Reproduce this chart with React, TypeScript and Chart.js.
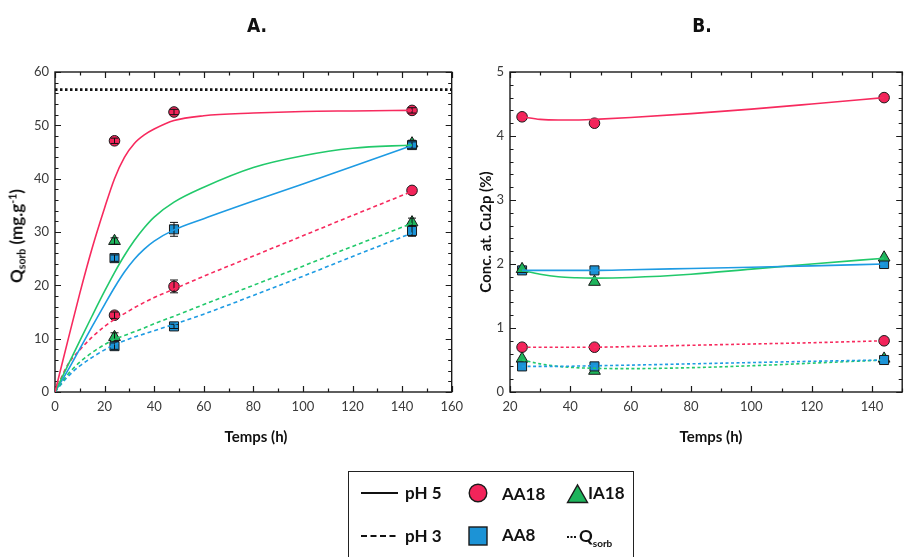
import React, { useEffect, useRef } from 'react';
import { Chart, registerables } from 'chart.js';
Chart.register(...registerables);

// ---------- Panel A : sorption kinetics ----------
const A_TIMES = [24, 48, 144];
const A_IA18_TIMES = [24, 144];
const A_AA18_PH5 = [47.1, 52.5, 52.8];
const A_AA18_PH5_ERR = [0.5, 0.5, 0.5];
const A_AA8_PH5 = [25.1, 30.5, 46.3];
const A_AA8_PH5_ERR = [0.6, 1.3, 0.6];
const A_IA18_PH5 = [28.3, 46.6];
const A_IA18_PH5_ERR = [0.6, 0.6];
const A_AA18_PH3 = [14.4, 19.8, 37.8];
const A_AA18_PH3_ERR = [0.6, 1.2, 0];
const A_AA8_PH3 = [8.6, 12.3, 30.2];
const A_AA8_PH3_ERR = [0.6, 0.4, 1.0];
const A_IA18_PH3 = [10.3, 31.8];
const A_IA18_PH3_ERR = [0.8, 0.8];
const A_QSORB = 56.7;
const A_QSORB_X = [0, 160];

const A_FIT_T = [0, 5, 10, 15, 20, 24, 28, 32, 36, 40, 48, 60, 80, 100, 120, 144];
const A_FIT_AA18_PH5 = [0, 9.3, 18.5, 27, 34.5, 40, 44, 46.6, 48.2, 49.3, 50.9, 51.8, 52.3, 52.6, 52.7, 52.8];
const A_FIT_IA18_PH5 = [0, 4.8, 9.6, 14.3, 18.9, 22.4, 25.6, 28.4, 30.8, 32.8, 35.6, 38.4, 42.1, 44.3, 45.7, 46.3];
const A_FIT_AA8_PH5 = [0, 3.9, 8.1, 12.3, 16.4, 19.6, 22.5, 24.9, 26.8, 28.3, 30.4, 32.5, 35.8, 39, 42.3, 46.2];
const A_FIT_AA18_PH3 = [0, 5, 7.9, 10.3, 12.3, 13.6, 14.7, 15.8, 16.8, 17.7, 19.3, 21.7, 25.5, 29.3, 33.1, 37.6];
const A_FIT_IA18_PH3 = [0, 3.2, 5.6, 7.4, 8.9, 9.9, 10.6, 11.3, 12.0, 12.8, 14.2, 16.4, 20.0, 23.6, 27.3, 31.6];
const A_FIT_AA8_PH3 = [0, 2.8, 4.9, 6.5, 7.9, 8.9, 9.6, 10.3, 10.9, 11.5, 12.7, 14.6, 18.1, 21.7, 25.4, 29.8];

// ---------- Panel B : Cu2p atomic concentration ----------
const B_TIMES = [24, 48, 144];
const B_AA18_PH5 = [4.3, 4.2, 4.6];
const B_AA8_PH5 = [1.9, 1.9, 2.0];
const B_IA18_PH5 = [1.92, 1.72, 2.1];
const B_AA18_PH3 = [0.7, 0.7, 0.8];
const B_AA8_PH3 = [0.4, 0.4, 0.5];
const B_IA18_PH3 = [0.52, 0.33, 0.52];

const B_FIT_T = [24, 30, 36, 42, 48, 60, 80, 100, 120, 144];
const B_FIT_AA18_PH5 = [4.3, 4.26, 4.25, 4.25, 4.26, 4.29, 4.35, 4.42, 4.5, 4.6];
const B_FIT_AA8_PH5 = [1.9, 1.9, 1.9, 1.9, 1.9, 1.91, 1.93, 1.95, 1.97, 2.0];
const B_FIT_IA18_PH5 = [1.9, 1.84, 1.8, 1.785, 1.78, 1.79, 1.84, 1.92, 2.0, 2.09];
const B_FIT_AA18_PH3 = [0.7, 0.7, 0.7, 0.7, 0.7, 0.71, 0.73, 0.75, 0.77, 0.8];
const B_FIT_AA8_PH3 = [0.4, 0.4, 0.4, 0.405, 0.41, 0.42, 0.44, 0.46, 0.48, 0.5];
const B_FIT_IA18_PH3 = [0.5, 0.44, 0.4, 0.38, 0.37, 0.365, 0.38, 0.41, 0.45, 0.5];

// ---------- axis ranges / ticks ----------
const A_X = { min: 0, max: 160, major: 20, minor: 10 };
const A_Y = { min: 0, max: 60, major: 10, minor: 2 };
const B_X = { min: 20, max: 150, major: 20, minor: 10 };
const B_Y = { min: 0, max: 5, major: 1, minor: 0.2 };

// ---------- style ----------
const RED = '#F72A5E';
const RED_M = '#F2245A';
const GREEN = '#22C96B';
const GREEN_M = '#1EB45C';
const BLUE = '#1E9BE3';
const BLUE_M = '#1C93D6';
const FONT = 'Lato, "Open Sans", sans-serif';

const pts = (xs: number[], ys: number[]) => xs.map((x, i) => ({ x, y: ys[i] }));

const curve = (xs: number[], ys: number[], color: string, dash: number[]) => ({
  data: pts(xs, ys),
  showLine: true,
  borderColor: color,
  borderWidth: 1.6,
  borderDash: dash,
  pointRadius: 0,
  cubicInterpolationMode: 'monotone',
});

const markers = (xs: number[], ys: number[], color: string, style: string, r: number, errors?: number[]) => ({
  data: pts(xs, ys),
  showLine: false,
  pointStyle: style,
  pointRadius: r,
  pointBackgroundColor: color,
  pointBorderColor: '#1a1a1a',
  pointBorderWidth: 1,
  errors,
});

const framePlugin = {
  id: 'frame',
  beforeDatasetsDraw(chart: any, _a: any, o: any) {
    const { ctx, chartArea: a, scales } = chart;
    const xs = scales.x, ys = scales.y;
    ctx.save();
    ctx.strokeStyle = '#1a1a1a';
    ctx.lineWidth = 1.2;
    ctx.beginPath();
    const isMajor = (v: number, m: number) => Math.abs(v / m - Math.round(v / m)) < 1e-6;
    const nx = Math.round((o.x.max - o.x.min) / o.x.minor);
    for (let i = 0; i <= nx; i++) {
      const v = o.x.min + i * o.x.minor;
      const len = isMajor(v, o.x.major) ? 6 : 3.5;
      const p = Math.round(xs.getPixelForValue(v)) + 0.5;
      ctx.moveTo(p, a.bottom); ctx.lineTo(p, a.bottom - len);
      ctx.moveTo(p, a.top); ctx.lineTo(p, a.top + len);
    }
    const ny = Math.round((o.y.max - o.y.min) / o.y.minor);
    for (let i = 0; i <= ny; i++) {
      const v = o.y.min + i * o.y.minor;
      const len = isMajor(v, o.y.major) ? 6 : 3.5;
      const p = Math.round(ys.getPixelForValue(v)) + 0.5;
      ctx.moveTo(a.left, p); ctx.lineTo(a.left + len, p);
      ctx.moveTo(a.right, p); ctx.lineTo(a.right - len, p);
    }
    ctx.stroke();
    ctx.lineWidth = 1.4;
    ctx.strokeRect(a.left, a.top, a.right - a.left, a.bottom - a.top);
    ctx.restore();
  },
};

const errorPlugin = {
  id: 'errorBars',
  afterDatasetDraw(chart: any, args: any) {
    const ds = chart.data.datasets[args.index];
    if (!ds.errors) return;
    const { ctx } = chart;
    const xs = chart.scales.x, ys = chart.scales.y;
    ctx.save();
    ctx.strokeStyle = '#111';
    ctx.lineWidth = 1;
    ctx.beginPath();
    ds.data.forEach((p: any, i: number) => {
      const e = ds.errors[i];
      if (!e) return;
      const px = xs.getPixelForValue(p.x);
      const y1 = ys.getPixelForValue(p.y + e);
      const y2 = ys.getPixelForValue(p.y - e);
      ctx.moveTo(px, y1); ctx.lineTo(px, y2);
      ctx.moveTo(px - 4, y1); ctx.lineTo(px + 4, y1);
      ctx.moveTo(px - 4, y2); ctx.lineTo(px + 4, y2);
    });
    ctx.stroke();
    ctx.restore();
  },
};

const axis = (r: any, fitKey: 'height' | 'width', fitVal: number, isX: boolean) => ({
  type: 'linear',
  min: r.min,
  max: r.max,
  grid: { display: false, drawTicks: false },
  border: { display: false },
  afterFit: (s: any) => { s[fitKey] = fitVal; },
  ticks: {
    stepSize: r.major,
    includeBounds: false,
    padding: isX ? 7 : 6,
    color: '#3a3a3a',
    font: { family: FONT, size: 13 },
    maxRotation: 0,
    autoSkip: false,
  },
});

const baseOptions = (rx: any, ry: any, padRight: number, yWidth: number) => ({
  responsive: false,
  animation: false,
  devicePixelRatio: 1,
  layout: { padding: { top: 72, right: padRight, left: 0, bottom: 0 } },
  plugins: {
    legend: { display: false },
    tooltip: { enabled: false },
    frame: { x: rx, y: ry },
  },
  scales: {
    x: axis(rx, 'height', 40, true),
    y: axis(ry, 'width', yWidth, false),
  },
});

function useChart(ref: React.RefObject<HTMLCanvasElement>, make: () => any) {
  useEffect(() => {
    if (!ref.current) return;
    const chart = new Chart(ref.current, make());
    return () => chart.destroy();
  }, []);
}

export default function App() {
  const refA = useRef<HTMLCanvasElement>(null);
  const refB = useRef<HTMLCanvasElement>(null);

  useChart(refA, () => ({
    type: 'scatter',
    data: {
      datasets: [
        {
          data: pts(A_QSORB_X, A_QSORB_X.map(() => A_QSORB)),
          showLine: true, borderColor: '#111', borderWidth: 2.6, borderDash: [2.5, 2.5], pointRadius: 0,
        },
        curve(A_FIT_T, A_FIT_AA18_PH5, RED, []),
        curve(A_FIT_T, A_FIT_IA18_PH5, GREEN, []),
        curve(A_FIT_T, A_FIT_AA8_PH5, BLUE, []),
        curve(A_FIT_T, A_FIT_AA18_PH3, RED, [4, 3]),
        curve(A_FIT_T, A_FIT_IA18_PH3, GREEN, [4, 3]),
        curve(A_FIT_T, A_FIT_AA8_PH3, BLUE, [4, 3]),
        markers(A_TIMES, A_AA8_PH5, BLUE_M, 'rect', 6.4, A_AA8_PH5_ERR),
        markers(A_TIMES, A_AA8_PH3, BLUE_M, 'rect', 6.4, A_AA8_PH3_ERR),
        markers(A_IA18_TIMES, A_IA18_PH5, GREEN_M, 'triangle', 6.8, A_IA18_PH5_ERR),
        markers(A_IA18_TIMES, A_IA18_PH3, GREEN_M, 'triangle', 6.8, A_IA18_PH3_ERR),
        markers(A_TIMES, A_AA18_PH5, RED_M, 'circle', 5.3, A_AA18_PH5_ERR),
        markers(A_TIMES, A_AA18_PH3, RED_M, 'circle', 5.3, A_AA18_PH3_ERR),
      ],
    },
    options: baseOptions(A_X, A_Y, 15, 55),
    plugins: [framePlugin, errorPlugin],
  }));

  useChart(refB, () => ({
    type: 'scatter',
    data: {
      datasets: [
        curve(B_FIT_T, B_FIT_AA18_PH5, RED, []),
        curve(B_FIT_T, B_FIT_AA8_PH5, BLUE, []),
        curve(B_FIT_T, B_FIT_IA18_PH5, GREEN, []),
        curve(B_FIT_T, B_FIT_AA18_PH3, RED, [3, 2.5]),
        curve(B_FIT_T, B_FIT_AA8_PH3, BLUE, [3, 2.5]),
        curve(B_FIT_T, B_FIT_IA18_PH3, GREEN, [3, 2.5]),
        markers(B_TIMES, B_AA8_PH3, BLUE_M, 'rect', 6.4),
        markers(B_TIMES, B_IA18_PH3, GREEN_M, 'triangle', 6.8),
        markers(B_TIMES, B_IA18_PH5, GREEN_M, 'triangle', 6.8),
        markers(B_TIMES, B_AA8_PH5, BLUE_M, 'rect', 6.4),
        markers(B_TIMES, B_AA18_PH3, RED_M, 'circle', 5.3),
        markers(B_TIMES, B_AA18_PH5, RED_M, 'circle', 5.3),
      ],
    },
    options: baseOptions(B_X, B_Y, 0, 50),
    plugins: [framePlugin, errorPlugin],
  }));

  const abs = (s: any): any => ({ position: 'absolute', whiteSpace: 'nowrap', ...s });
  const bold15 = { fontFamily: FONT, fontWeight: 700, fontSize: 15, color: '#111' };
  const legText = { fontFamily: FONT, fontWeight: 700, fontSize: 17, color: '#111', lineHeight: '20px' };
  const rot = (x: number, y: number, size: number) => abs({ left: x, top: y, transform: 'translate(-50%,-50%) rotate(-90deg)', ...bold15, fontSize: size });
  const subStyle = { fontSize: '0.62em', verticalAlign: '-0.3em', lineHeight: 0 };
  const supStyle = { fontSize: '0.62em', verticalAlign: '0.55em', lineHeight: 0 };
  const titleStyle = { fontFamily: '"Liberation Sans Narrow", "DejaVu Sans Condensed", "Liberation Sans", sans-serif', fontWeight: 700, fontSize: 19, color: '#111' };

  return (
    <div style={{ position: 'absolute', left: 0, top: 0, width: 905, height: 557, overflow: 'hidden', background: '#fff' }}>
      <div style={abs({ left: 0, top: 0 })}>
        <canvas ref={refA} width={470} height={432} style={{ display: 'block' }} />
      </div>
      <div style={abs({ left: 460, top: 0 })}>
        <canvas ref={refB} width={450} height={432} style={{ display: 'block' }} />
      </div>

      <div style={abs({ left: 257, top: 25, transform: 'translate(-50%,-50%)', ...titleStyle })}>A.</div>
      <div style={abs({ left: 702, top: 25, transform: 'translate(-50%,-50%)', ...titleStyle })}>B.</div>

      <div style={abs({ left: 256, top: 436, transform: 'translate(-50%,-50%)', ...bold15 })}>Temps (h)</div>
      <div style={abs({ left: 711, top: 436, transform: 'translate(-50%,-50%)', ...bold15 })}>Temps (h)</div>

      <div style={rot(16, 236, 17)}>
        Q<span style={subStyle}>sorb</span> (mg.g<span style={supStyle}>-1</span>)
      </div>
      <div style={rot(485, 232, 15)}>Conc. at. Cu2p (%)</div>

      {/* legend */}
      <div style={abs({ left: 348, top: 471, width: 286, height: 110, border: '1.3px solid #222', boxSizing: 'border-box' })} />
      <svg width={905} height={557} style={{ position: 'absolute', left: 0, top: 0, pointerEvents: 'none' }}>
        <line x1={361} y1={493} x2={398} y2={493} stroke="#111" strokeWidth={2} />
        <line x1={361} y1={536} x2={398} y2={536} stroke="#111" strokeWidth={2} strokeDasharray="6 3.5" />
        <circle cx={478} cy={493} r={8.8} fill={RED_M} stroke="#1a1a1a" strokeWidth={1.4} />
        <rect x={469} y={527} width={18} height={18} fill={BLUE_M} stroke="#1a1a1a" strokeWidth={1.4} />
        <polygon points="567.5,502.5 577.5,485 587.5,502.5" fill={GREEN_M} stroke="#1a1a1a" strokeWidth={1.4} />
        <line x1={567} y1={537} x2={576} y2={537} stroke="#111" strokeWidth={2.2} strokeDasharray="2 1.5" />
      </svg>
      <div style={abs({ left: 405, top: 483, ...legText })}>pH 5</div>
      <div style={abs({ left: 405, top: 526, ...legText })}>pH 3</div>
      <div style={abs({ left: 502, top: 484, ...legText })}>AA18</div>
      <div style={abs({ left: 502, top: 525, ...legText })}>AA8</div>
      <div style={abs({ left: 588, top: 483, ...legText })}>IA18</div>
      <div style={abs({ left: 579, top: 526, ...legText })}>
        Q<span style={{ fontSize: 10, verticalAlign: '-0.5em', lineHeight: 0 }}>sorb</span>
      </div>
    </div>
  );
}
